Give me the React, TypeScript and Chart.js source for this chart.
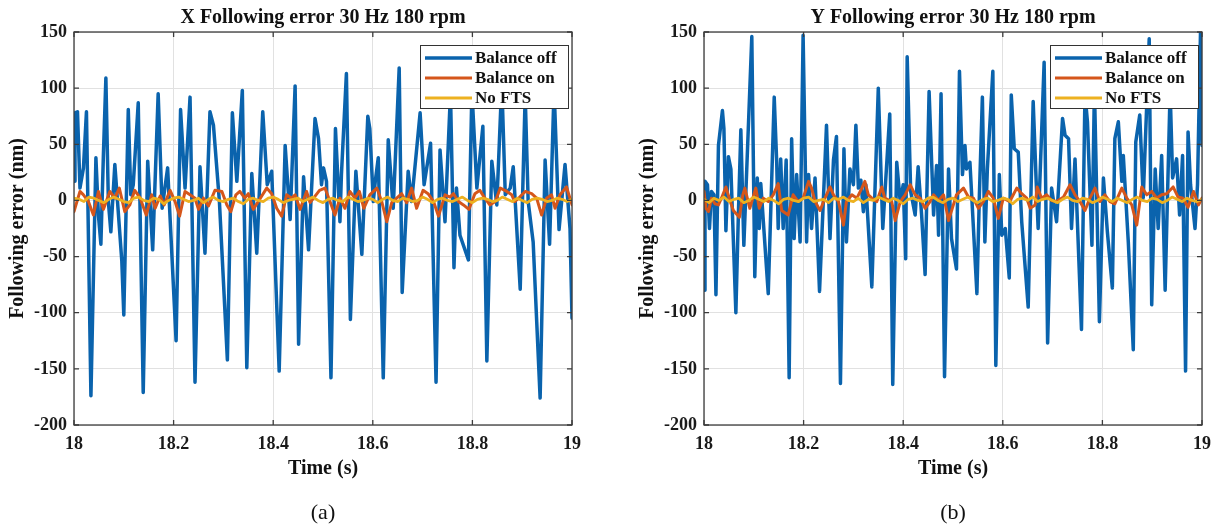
import { useEffect, useRef } from 'react';
import { Chart, registerables } from 'chart.js';

Chart.register(...registerables);

// ---------- axes ----------
const xTicks = [18, 18.2, 18.4, 18.6, 18.8, 19];
const xTickLabels = ['18', '18.2', '18.4', '18.6', '18.8', '19'];
const yTicks = [-200, -150, -100, -50, 0, 50, 100, 150];
const yTickLabels = ['-200', '-150', '-100', '-50', '0', '50', '100', '150'];

const seriesNames = ['Balance off', 'Balance on', 'No FTS'];
const seriesColors = ['#0a63ad', '#d5561b', '#edb120'];

const panelTitles = ['X Following error 30 Hz 180 rpm', 'Y Following error 30 Hz 180 rpm'];
const panelLabels = ['(a)', '(b)'];
const xAxisTitle = 'Time (s)';
const yAxisTitle = 'Following error (nm)';

// ---------- panel (a): X axis, times in ms after 18 s ----------
const xOffTimes = [
  0, 2, 7, 12, 19, 25, 34, 44, 49, 54,
  59, 64, 69, 74, 82, 96, 100, 109, 114, 119,
  129, 139, 148, 158, 169, 177, 188, 205, 214, 223,
  233, 243, 253, 263, 273, 280, 292, 308, 318, 327,
  338, 347, 357, 367, 379, 388, 397, 412, 424, 434,
  444, 451, 461, 471, 484, 491, 497, 501, 507, 516,
  525, 534, 537, 547, 555, 566, 578, 590, 594, 601,
  605, 611, 621, 631, 641, 653, 659, 671, 678, 695,
  703, 716, 727, 735, 745, 756, 763, 768, 775, 792,
  799, 809, 821, 829, 839, 849, 859, 866, 876, 882,
  896, 906, 912, 922, 936, 946, 955, 964, 974, 986,
  996, 1000,
];
const xOffValues = [
  17, 78, 79, 11, 29, 79, -174, 38, -13, -39,
  40, 109, -1, -28, 32, -54, -102, 81, 5, 14,
  87, -171, 35, -44, 95, -7, 29, -125, 81, 11,
  92, -162, 30, -47, 79, 67, -1, -142, 78, 17,
  98, -149, 24, -47, 79, 14, 26, -152, 49, -17,
  102, -128, 21, -44, 73, 55, 14, 29, 17, -158,
  64, -19, 23, 113, -106, 26, -48, 75, 64, -1,
  17, 38, -158, 54, -7, 118, -82, 26, -1, 78,
  14, 51, -162, 45, -19, 96, -60, 11, -31, -53,
  98, 11, 66, -143, 35, -4, 105, 5, 11, 30,
  -79, 94, -1, -37, -176, 36, -39, 100, -26, 32,
  -25, -105,
];
const xOnTimes = [
  0, 12, 19, 29, 39, 49, 59, 72, 82, 91,
  102, 112, 122, 133, 145, 156, 163, 173, 181, 193,
  203, 212, 223, 233, 243, 250, 260, 270, 283, 297,
  307, 315, 325, 333, 343, 350, 360, 370, 387, 397,
  407, 417, 427, 437, 444, 454, 467, 474, 493, 504,
  514, 524, 534, 544, 554, 564, 573, 582, 594, 608,
  618, 628, 638, 648, 658, 668, 678, 688, 701, 711,
  722, 732, 745, 755, 762, 772, 782, 793, 805, 815,
  825, 835, 846, 856, 869, 879, 885, 895, 906, 919,
  929, 939, 949, 959, 966, 976, 989, 1000,
];
const xOnValues = [
  -10, 8, 5, -1, -13, 8, -8, 8, 2, 11,
  -10, -4, 9, 2, -13, 5, -7, 4, -4, 9,
  -1, -14, 8, 5, 2, -8, 2, -5, 9, 8,
  -4, -10, 5, 8, 2, 6, -8, -1, 11, 6,
  -7, -14, 5, 2, 5, -8, 8, -2, 9, 11,
  -1, -13, 2, -7, 8, 2, 8, -7, 5, 11,
  -1, -19, -2, 2, 6, -2, 11, -7, 9, 6,
  -1, -14, 5, 3, 6, -1, -4, -8, 6, 9,
  2, -4, -1, 11, 8, 5, -1, 3, 8, 6,
  2, -13, 2, 5, -7, 5, 12, -4,
];
const xNoFtsValues = [
  2, 1, -1, 3, 2, 0, -2, 1, 3, 1,
  -1, -2, 2, 3, 0, -1, 2, 1, -3, 0,
  2, 3, 1, -1, 0, 2, -2, 1, 3, 0,
  -1, 1, 2, -1, -3, 1, 2, 0, -1, 2,
  3, 1, -2, 0, 1, 2, -1, 1, 3, 0,
  -2, 1, 2, 0, -1, 3, 1, -1, 0, 2,
  1, -2, 1, 3, 0, -1, 2, 1, -1, 0,
  3, 1, -2, 1, 2, 0, -1, 1, 3, 0,
  -2, 1, 2, 1, -1, 0, 3, 1, -1, 2,
  0, -2, 1, 2, 1, -1, 0, 2, 1, -1,
  1,
];

// ---------- panel (b): Y axis ----------
const yOffTimes = [
  0, 2, 7, 11, 15, 20, 24, 29, 37, 40,
  44, 49, 54, 64, 69, 74, 80, 96, 102, 107,
  111, 114, 129, 141, 146, 149, 154, 159, 165, 171,
  176, 181, 186, 193, 199, 206, 210, 216, 223, 232,
  246, 253, 260, 266, 274, 281, 286, 293, 300, 305,
  310, 315, 320, 325, 337, 350, 359, 373, 379, 387,
  394, 400, 405, 408, 415, 424, 430, 437, 444, 452,
  461, 467, 471, 476, 483, 491, 497, 507, 513, 519,
  524, 527, 534, 548, 553, 559, 564, 569, 580, 586,
  593, 598, 605, 613, 617, 623, 631, 638, 651, 661,
  667, 671, 683, 690, 698, 708, 720, 725, 732, 738,
  745, 758, 765, 770, 779, 784, 794, 802, 810, 820,
  825, 832, 839, 842, 852, 862, 867, 875, 882, 894,
  899, 906, 912, 919, 926, 936, 941, 949, 955, 961,
  967, 972, 977, 986, 991, 997, 1000,
];
const yOffValues = [
  -80, 17, 14, -25, 8, 5, -84, 49, 80, 64,
  -27, 39, 28, -100, -13, 63, -40, 146, -68, 20,
  -25, 15, -83, 92, 34, -25, 37, -25, 36, -158,
  55, -34, 23, -37, 147, -37, 23, -25, 20, -81,
  67, -34, 36, 57, -163, 46, -37, 28, 14, 67,
  11, 18, -10, 14, -77, 100, -25, 77, -164, 34,
  -1, 14, -52, 128, 8, -13, 30, -13, -66, 97,
  -13, 31, -31, 95, -157, 28, -34, -61, 115, 23,
  49, 28, 34, -83, 5, 92, -37, 28, 115, -147,
  23, -31, -25, -69, 94, 46, 43, -19, -95, 88,
  17, -25, 123, -127, 11, -19, 73, 58, 55, -25,
  37, -115, 95, 70, -40, 100, -108, 20, -28, -78,
  55, 70, 17, 40, -37, -133, 52, 76, 2, 144,
  -93, 28, -25, 40, -80, 98, 20, 37, -13, 40,
  -152, 61, 14, -25, 14, 150, 49,
];
const yOnTimes = [
  0, 4, 9, 15, 22, 29, 35, 44, 52, 59,
  71, 78, 82, 92, 104, 111, 119, 129, 139, 149,
  156, 169, 179, 189, 199, 210, 216, 223, 233, 243,
  253, 260, 270, 280, 286, 297, 307, 317, 323, 330,
  337, 347, 357, 363, 377, 384, 394, 404, 414, 424,
  434, 444, 454, 461, 471, 481, 491, 507, 521, 531,
  541, 551, 561, 571, 581, 591, 601, 614, 628, 638,
  648, 655, 665, 669, 678, 688, 698, 708, 722, 735,
  745, 755, 765, 775, 785, 795, 805, 815, 825, 839,
  849, 859, 869, 879, 889, 899, 909, 919, 929, 942,
  952, 962, 972, 983, 993, 1000,
];
const yOnValues = [
  8, -7, -10, 2, -3, -4, 2, 12, 0, -9,
  -15, 5, 11, -7, 11, -7, 2, -1, 5, 15,
  -9, -13, 5, -1, 2, 17, 11, -1, -9, 2,
  12, 5, -1, -22, -1, 5, 2, 11, 17, 5,
  2, -1, 12, 2, -1, -18, -1, 5, 14, 5,
  2, -7, -1, 5, 0, 5, -18, 5, 11, 3,
  2, -7, -1, 8, 2, -16, 2, -1, 11, 6,
  2, -7, -4, 12, 2, 5, 0, -1, 3, 14,
  5, -1, -9, 2, 11, -1, 5, -1, -3, 11,
  2, -4, -22, 12, 5, 8, 2, 5, 6, 12,
  3, 2, -6, 8, -4, 2,
];
const yNoFtsValues = [
  1, -2, 2, 0, 3, -1, 1, 2, -2, 0,
  3, 1, -1, 2, 0, -3, 1, 2, 0, -1,
  2, 3, -1, 0, 1, -2, 2, 1, 3, 0,
  -1, 2, -2, 1, 0, 3, 1, -1, 2, 0,
  -3, 1, 2, 0, -1, 2, 3, 0, -2, 1,
  2, -1, 1, 3, 0, -2, 1, 2, -1, 0,
  2, 1, -3, 1, 2, 0, 3, -1, 1, 2,
  0, -2, 1, 3, 0, -1, 2, 1, -2, 0,
  3, 1, -1, 2, 0, -2, 1, 3, 0, -1,
  2, 1, -2, 0, 3, 1, -1, 2, 0, -1,
  1,
];
// No FTS sampled every 10 ms
const noFtsTimes = Array.from({ length: 101 }, (_, i) => i * 10);

const SERIF = '"Liberation Serif", "Times New Roman", Times, serif';

const decorPlugin = {
  id: 'decor',
  afterDatasetsDraw(chart: any, _args: any, opts: any) {
    const { ctx, chartArea: a } = chart;
    const xs = chart.scales.x;
    const ys = chart.scales.y;
    ctx.save();
    // axes box
    ctx.strokeStyle = '#3c3c3c';
    ctx.lineWidth = 1.3;
    ctx.strokeRect(a.left, a.top, a.right - a.left, a.bottom - a.top);
    // inward ticks
    ctx.beginPath();
    xTicks.forEach((v) => {
      const px = xs.getPixelForValue(v);
      ctx.moveTo(px, a.bottom);
      ctx.lineTo(px, a.bottom - 5);
      ctx.moveTo(px, a.top);
      ctx.lineTo(px, a.top + 5);
    });
    yTicks.forEach((v) => {
      const py = ys.getPixelForValue(v);
      ctx.moveTo(a.left, py);
      ctx.lineTo(a.left + 5, py);
      ctx.moveTo(a.right, py);
      ctx.lineTo(a.right - 5, py);
    });
    ctx.stroke();

    // legend
    const lw = 148;
    const lh = 63;
    const lx = a.right - 4 - lw;
    const ly = a.top + 13;
    ctx.fillStyle = '#ffffff';
    ctx.fillRect(lx, ly, lw, lh);
    ctx.strokeStyle = '#333333';
    ctx.lineWidth = 1;
    ctx.strokeRect(lx + 0.5, ly + 0.5, lw, lh);
    seriesNames.forEach((name, i) => {
      const y = ly + 13 + i * 20;
      ctx.strokeStyle = seriesColors[i];
      ctx.lineWidth = i === 0 ? 3.5 : 3;
      ctx.beginPath();
      ctx.moveTo(lx + 5, y);
      ctx.lineTo(lx + 52, y);
      ctx.stroke();
      ctx.fillStyle = '#111111';
      ctx.font = `bold 17px ${SERIF}`;
      ctx.textAlign = 'left';
      ctx.textBaseline = 'middle';
      ctx.fillText(name, lx + 55, y + 1);
    });

    const cx = (a.left + a.right) / 2;
    ctx.fillStyle = '#111111';
    ctx.textAlign = 'center';
    ctx.textBaseline = 'middle';
    ctx.font = `bold 20px ${SERIF}`;
    ctx.fillText(opts.title, cx, 18);
    ctx.fillText(xAxisTitle, cx, 469);
    ctx.font = `22px ${SERIF}`;
    ctx.fillText(opts.label, cx, 513);
    ctx.save();
    ctx.translate(18, (a.top + a.bottom) / 2);
    ctx.rotate(-Math.PI / 2);
    ctx.font = `bold 20px ${SERIF}`;
    ctx.fillText(yAxisTitle, 0, 0);
    ctx.restore();
    ctx.restore();
  },
};

function makeDataset(times: number[], values: number[], i: number, width: number, order: number) {
  return {
    label: seriesNames[i],
    data: times.map((t, k) => ({ x: 18 + t / 1000, y: values[k] })),
    borderColor: seriesColors[i],
    backgroundColor: seriesColors[i],
    borderWidth: width,
    pointRadius: 0,
    tension: 0,
    fill: false,
    order,
    borderJoinStyle: 'round',
    borderCapStyle: 'round',
  };
}

function makeConfig(panel: number, padRight: number): any {
  const off = panel === 0 ? [xOffTimes, xOffValues] : [yOffTimes, yOffValues];
  const on = panel === 0 ? [xOnTimes, xOnValues] : [yOnTimes, yOnValues];
  const noFts = panel === 0 ? xNoFtsValues : yNoFtsValues;
  const tickFont = { family: SERIF, size: 18, weight: 'bold' };
  return {
    type: 'line',
    data: {
      datasets: [
        makeDataset(off[0], off[1], 0, 3.5, 3),
        makeDataset(on[0], on[1], 1, 3, 2),
        makeDataset(noFtsTimes, noFts, 2, 2.8, 1),
      ],
    },
    options: {
      responsive: false,
      animation: false,
      events: [],
      layout: { padding: { top: 32, left: 0, right: padRight, bottom: 0 } },
      plugins: {
        legend: { display: false },
        title: { display: false },
        tooltip: { enabled: false },
        decor: { title: panelTitles[panel], label: panelLabels[panel] },
      },
      scales: {
        x: {
          type: 'linear',
          min: 18,
          max: 19,
          afterBuildTicks: (s: any) => {
            s.ticks = xTicks.map((v) => ({ value: v }));
          },
          afterFit: (s: any) => {
            s.height = 104;
          },
          ticks: {
            callback: (_v: any, i: number) => xTickLabels[i],
            padding: 9,
            font: tickFont,
            color: '#1a1a1a',
            maxRotation: 0,
            autoSkip: false,
          },
          grid: { color: '#e1e1e1', drawTicks: false, lineWidth: 1 },
          border: { display: false },
        },
        y: {
          type: 'linear',
          min: -200,
          max: 150,
          afterBuildTicks: (s: any) => {
            s.ticks = yTicks.map((v) => ({ value: v }));
          },
          afterFit: (s: any) => {
            s.width = 74;
          },
          ticks: {
            callback: (_v: any, i: number) => yTickLabels[i],
            padding: 7,
            font: tickFont,
            color: '#1a1a1a',
            autoSkip: false,
          },
          grid: { color: '#e1e1e1', drawTicks: false, lineWidth: 1 },
          border: { display: false },
        },
      },
    },
    plugins: [decorPlugin],
  };
}

function Panel({ panel, left, width }: { panel: number; left: number; width: number }) {
  const ref = useRef<HTMLCanvasElement | null>(null);
  useEffect(() => {
    if (!ref.current) return;
    const chart = new Chart(ref.current, makeConfig(panel, width - 572));
    return () => chart.destroy();
  }, [panel, width]);
  return (
    <div style={{ position: 'absolute', left, top: 0, width, height: 529 }}>
      <canvas ref={ref} width={width} height={529} style={{ width, height: 529, display: 'block' }} />
    </div>
  );
}

export default function App() {
  return (
    <div
      style={{
        position: 'absolute',
        left: 0,
        top: 0,
        width: 1224,
        height: 529,
        background: '#ffffff',
        overflow: 'hidden',
      }}
    >
      <Panel panel={0} left={0} width={612} />
      <Panel panel={1} left={630} width={594} />
    </div>
  );
}
